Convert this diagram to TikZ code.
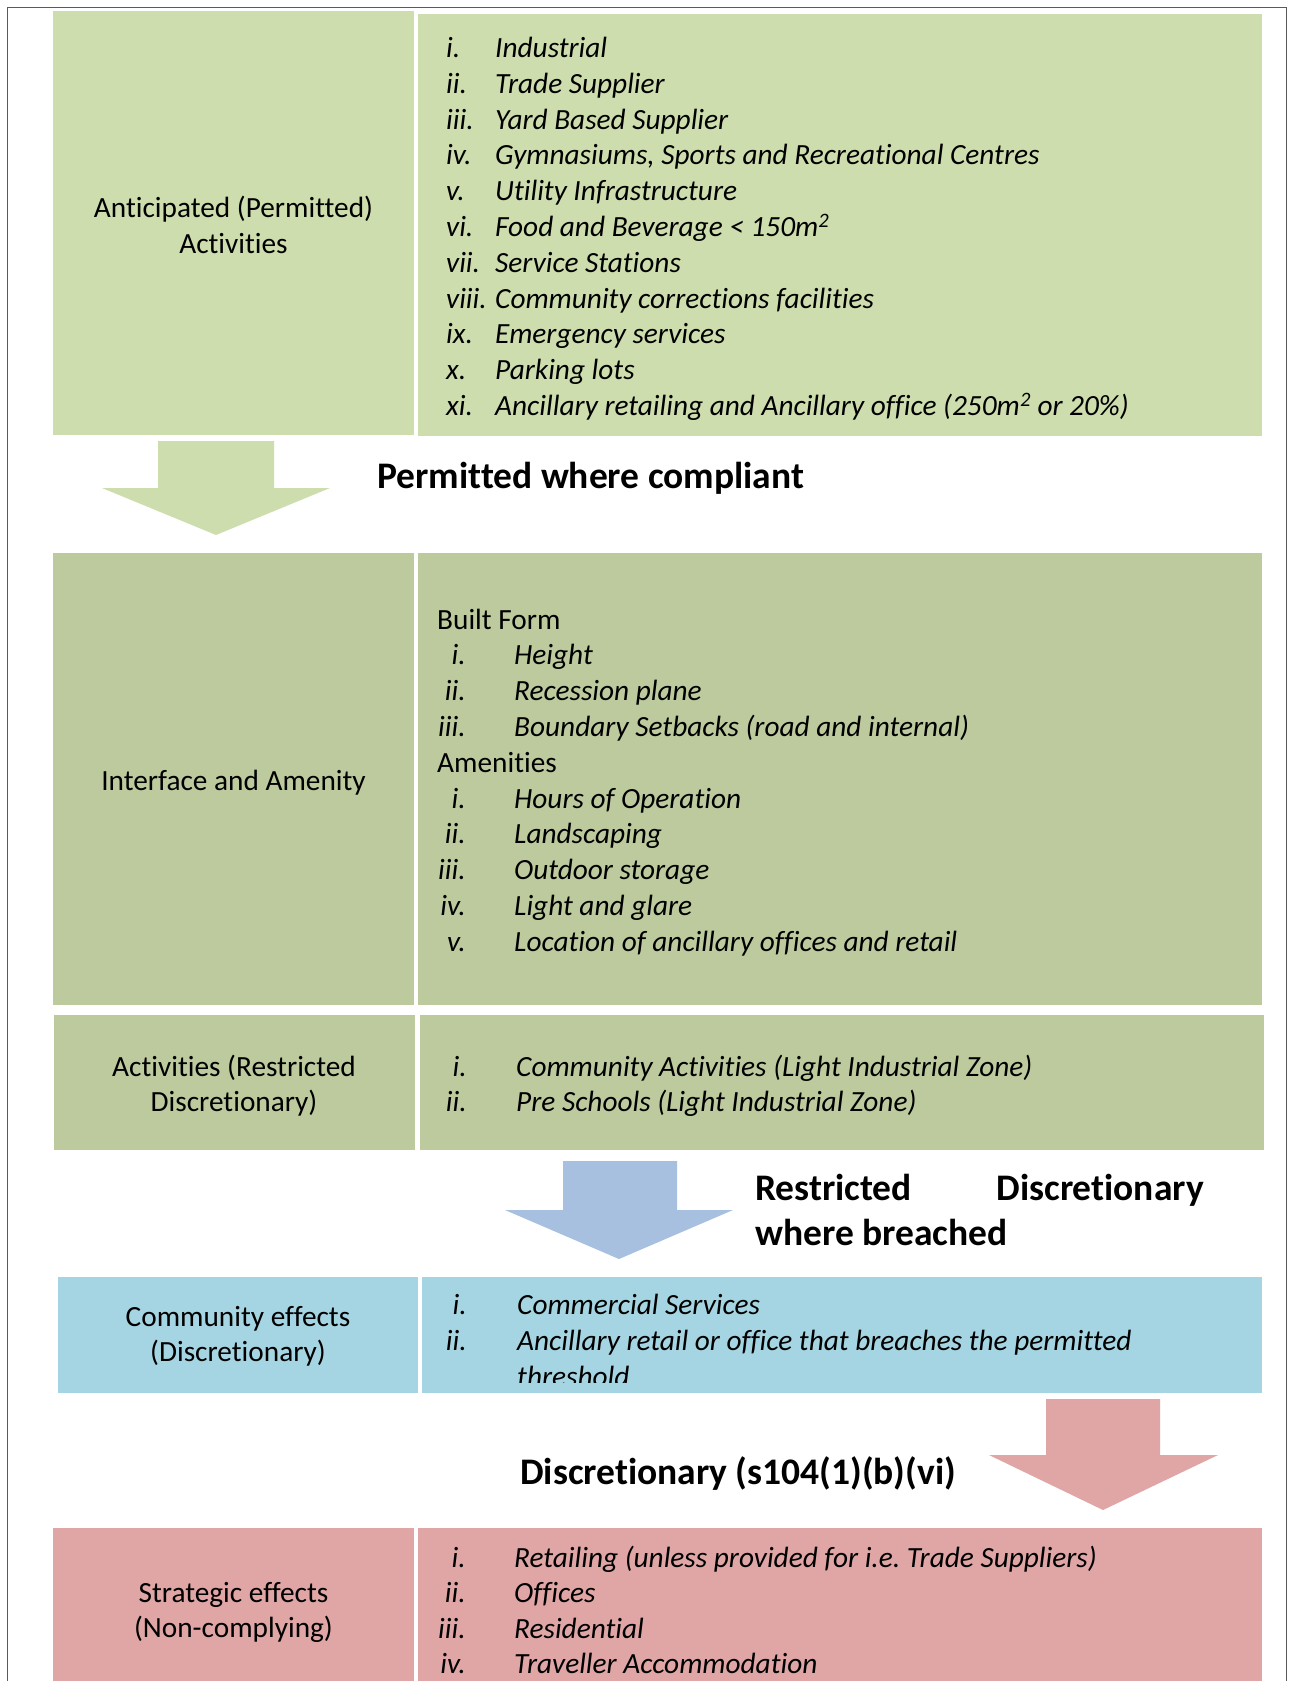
\documentclass[tikz,border=0pt]{standalone}
\usepackage{fontspec}
\setmainfont{Carlito}[Ligatures=NoCommon]
\frenchspacing
\definecolor{gA}{RGB}{206,221,173}
\definecolor{gB}{RGB}{189,202,157}
\definecolor{bBox}{RGB}{165,213,226}
\definecolor{bArr}{RGB}{167,192,223}
\definecolor{pk}{RGB}{223,166,165}
\definecolor{frame}{RGB}{90,90,90}
\tikzset{
  lbl/.style={inner sep=0pt, align=center, font=\fontsize{29.3}{35.8}\selectfont},
  num/.style={inner sep=0pt, font=\fontsize{29.3}{35.8}\selectfont\itshape},
  itm/.style={inner sep=0pt, anchor=base west, font=\fontsize{29.3}{35.8}\selectfont\itshape},
  hdr/.style={inner sep=0pt, anchor=base west, font=\fontsize{29.3}{35.8}\selectfont},
  big/.style={inner sep=0pt, font=\fontsize{37.5}{45}\selectfont\bfseries},
}
\begin{document}
\begin{tikzpicture}[x=1pt,y=-1pt]
\useasboundingbox (0,0) rectangle (1289,1681);
\fill[white] (0,0) rectangle (1289,1681);
% outer frame (open at the bottom)
\draw[frame, line width=1.6pt] (7.5,1681) -- (7.5,7.5) -- (1286.5,7.5) -- (1286.5,1681);

% ---------- row 1 ----------
\fill[gA] (53,11) rectangle (414,435);
\fill[gA] (418,14) rectangle (1262,436);
\node[lbl, anchor=base] (l1a) at (233.5,217.5) {Anticipated (Permitted)};
\node[lbl, anchor=base] (l1b) at (233.5,253.3) {Activities};
\foreach \n/\t [count=\k] in {i./Industrial, ii./Trade Supplier, iii./Yard Based Supplier,
   iv./{Gymnasiums, Sports and Recreational Centres}, v./Utility Infrastructure,
   vi./{Food and Beverage < 150m\textsuperscript{2}}, vii./Service Stations,
   viii./Community corrections facilities, ix./Emergency services, x./Parking lots,
   xi./{Ancillary retailing and Ancillary office (250m\textsuperscript{2} or 20\%)}}{
  \node[num, anchor=base west] (n1\k) at (446,{57.5+35.8*(\k-1)}) {\n};
  \node[itm] (t1\k) at (495,{57.5+35.8*(\k-1)}) {\t};
}
% arrow 1
\fill[gA] (158,441) -- (274,441) -- (274,488) -- (330,488) -- (216,535) -- (102,488) -- (158,488) -- cycle;
\node[big, anchor=base west] (h1) at (377,488.5) {Permitted where compliant};

% ---------- row 2 ----------
\fill[gB] (53,553) rectangle (414,1005);
\fill[gB] (418,553) rectangle (1262,1005);
\node[lbl, anchor=base] (l2) at (233.5,790) {Interface and Amenity};
\node[hdr] (bf) at (437,629) {Built Form};
\foreach \n/\t [count=\k] in {i./Height, ii./Recession plane, iii./{Boundary Setbacks (road and internal)}}{
  \node[num, anchor=base east] (n2\k) at (466,{629+35.8*\k}) {\n};
  \node[itm] (t2\k) at (514,{629+35.8*\k}) {\t};
}
\node[hdr] (am) at (437,772.2) {Amenities};
\foreach \n/\t [count=\k] in {i./Hours of Operation, ii./Landscaping, iii./Outdoor storage,
   iv./Light and glare, v./Location of ancillary offices and retail}{
  \node[num, anchor=base east] (n3\k) at (466,{772.2+35.8*\k}) {\n};
  \node[itm] (t3\k) at (514,{772.2+35.8*\k}) {\t};
}

% ---------- row 3 ----------
\fill[gB] (54,1015) rectangle (415,1150);
\fill[gB] (420,1015) rectangle (1264,1150);
\node[lbl, anchor=base] (l3a) at (234,1076) {Activities (Restricted};
\node[lbl, anchor=base] (l3b) at (234,1111.8) {Discretionary)};
\node[num, anchor=base east] (n41) at (467,1076) {i.};
\node[itm] (t41) at (516,1076) {Community Activities (Light Industrial Zone)};
\node[num, anchor=base east] (n42) at (467,1111.8) {ii.};
\node[itm] (t42) at (516,1111.8) {Pre Schools (Light Industrial Zone)};

% arrow 2
\fill[bArr] (563,1161) -- (677,1161) -- (677,1210) -- (733,1210) -- (619,1259) -- (505,1210) -- (563,1210) -- cycle;
\node[big, anchor=base west] (h2a) at (755,1200) {Restricted};
\node[big, anchor=base east] (h2b) at (1204,1200) {Discretionary};
\node[big, anchor=base west] (h2c) at (755,1245) {where breached};

% ---------- row 4 ----------
\fill[bBox] (58,1277) rectangle (418,1393);
\fill[bBox] (422,1277) rectangle (1262,1393);
\node[lbl, anchor=base] (l4a) at (238,1326) {Community effects};
\node[lbl, anchor=base] (l4b) at (238,1361.8) {(Discretionary)};
\begin{scope}
\clip (422,1277) rectangle (1262,1382.5);
\node[num, anchor=base east] (n51) at (467,1314.5) {i.};
\node[itm] (t51) at (517,1314.5) {Commercial Services};
\node[num, anchor=base east] (n52) at (467,1350.3) {ii.};
\node[itm] (t52) at (517,1350.3) {Ancillary retail or office that breaches the permitted};
\node[itm] (t53) at (517,1386.1) {threshold};
\end{scope}

% arrow 3
\fill[pk] (1046,1399) -- (1160,1399) -- (1160,1455) -- (1218,1455) -- (1103,1510) -- (989,1455) -- (1046,1455) -- cycle;
\node[big, anchor=base west] (h3) at (520,1484) {Discretionary (s104(1)(b)(vi)};

% ---------- row 5 ----------
\fill[pk] (53,1528) rectangle (414,1681);
\fill[pk] (418,1528) rectangle (1262,1681);
\node[lbl, anchor=base] (l5a) at (233.5,1602) {Strategic effects};
\node[lbl, anchor=base] (l5b) at (233.5,1637.8) {(Non-complying)};
\foreach \n/\t [count=\k] in {i./{Retailing (unless provided for i.e. Trade Suppliers)}, ii./Offices,
   iii./Residential, iv./Traveller Accommodation}{
  \node[num, anchor=base east] (n6\k) at (466,{1567+35.6*(\k-1)}) {\n};
  \node[itm] (t6\k) at (514,{1567+35.6*(\k-1)}) {\t};
}
\end{tikzpicture}
\end{document}
